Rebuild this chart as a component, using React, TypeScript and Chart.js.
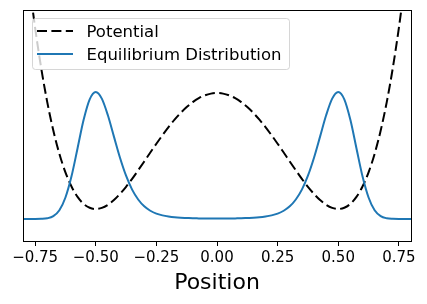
import React, { useEffect, useRef } from "react";
import { Chart, registerables } from "chart.js";

Chart.register(...registerables);

const positions = [
  -0.8, -0.775, -0.75, -0.725, -0.7, -0.675, -0.65, -0.625, -0.6, -0.575, -0.55, -0.525, -0.5,
  -0.475, -0.45, -0.425, -0.4, -0.375, -0.35, -0.325, -0.3, -0.275, -0.25, -0.225, -0.2,
  -0.175, -0.15, -0.125, -0.1, -0.075, -0.05, -0.025, 0,
  0.025, 0.05, 0.075, 0.1, 0.125, 0.15, 0.175, 0.2, 0.225, 0.25, 0.275, 0.3, 0.325, 0.35,
  0.375, 0.4, 0.425, 0.45, 0.475, 0.5, 0.525, 0.55, 0.575, 0.6, 0.625, 0.65, 0.675, 0.7,
  0.725, 0.75, 0.775, 0.8,
];

const potential = [
  2.434, 1.967, 1.5625, 1.216, 0.922, 0.677, 0.476, 0.316, 0.194, 0.104, 0.044, 0.011, 0,
  0.01, 0.036, 0.077, 0.13, 0.191, 0.26, 0.334, 0.41, 0.487, 0.563, 0.636, 0.706,
  0.77, 0.828, 0.879, 0.922, 0.956, 0.98, 0.995, 1.0,
  0.995, 0.98, 0.956, 0.922, 0.879, 0.828, 0.77, 0.706, 0.636, 0.563, 0.487, 0.41, 0.334, 0.26,
  0.191, 0.13, 0.077, 0.036, 0.01, 0, 0.011, 0.044, 0.104, 0.194, 0.316, 0.476, 0.677, 0.922,
  1.216, 1.5625, 1.967, 2.434,
];

const distribution = [
  -0.086, -0.086, -0.086, -0.085, -0.08, -0.062, -0.011, 0.099, 0.282, 0.524, 0.769, 0.946, 1.009,
  0.952, 0.808, 0.624, 0.442, 0.287, 0.167, 0.082, 0.023, -0.015, -0.04, -0.055, -0.065,
  -0.072, -0.076, -0.078, -0.08, -0.081, -0.082, -0.082, -0.082,
  -0.082, -0.082, -0.081, -0.08, -0.078, -0.076, -0.072, -0.065, -0.055, -0.04, -0.015, 0.023, 0.082, 0.167,
  0.287, 0.442, 0.624, 0.808, 0.952, 1.009, 0.946, 0.769, 0.524, 0.282, 0.099, -0.011, -0.062, -0.08,
  -0.085, -0.086, -0.086, -0.086,
];

const xTicks = [-0.75, -0.5, -0.25, 0, 0.25, 0.5, 0.75];
const seriesNames = ["Potential", "Equilibrium Distribution"];
const xLabel = "Position";

const FONT = "'DejaVu Sans', sans-serif";
const BLUE = "#1f77b4";
const DASH = [10, 4.4];

const fmt = (v: number) => (v < 0 ? "\u2212" : "") + Math.abs(v).toFixed(2);

const framePlugin = {
  id: "frame",
  afterDraw(chart: any) {
    const { ctx, chartArea } = chart;
    const l = Math.round(chartArea.left);
    const t = Math.round(chartArea.top);
    const r = Math.round(chartArea.right);
    const b = Math.round(chartArea.bottom);
    ctx.save();
    ctx.strokeStyle = "#000";
    ctx.lineWidth = 1;
    ctx.strokeRect(l + 0.5, t + 0.5, r - l, b - t);
    ctx.restore();
  },
};

const legendPlugin = {
  id: "innerLegend",
  afterDraw(chart: any) {
    const { ctx } = chart;
    const x = 32.5, y = 18.5, w = 257, h = 51, rad = 3;
    ctx.save();
    ctx.beginPath();
    ctx.moveTo(x + rad, y);
    ctx.lineTo(x + w - rad, y);
    ctx.quadraticCurveTo(x + w, y, x + w, y + rad);
    ctx.lineTo(x + w, y + h - rad);
    ctx.quadraticCurveTo(x + w, y + h, x + w - rad, y + h);
    ctx.lineTo(x + rad, y + h);
    ctx.quadraticCurveTo(x, y + h, x, y + h - rad);
    ctx.lineTo(x, y + rad);
    ctx.quadraticCurveTo(x, y, x + rad, y);
    ctx.closePath();
    ctx.fillStyle = "rgba(255,255,255,0.8)";
    ctx.fill();
    ctx.strokeStyle = "rgba(204,204,204,0.8)";
    ctx.lineWidth = 1;
    ctx.stroke();

    const rows = [
      { y: 31, base: 37, color: "#000", dash: DASH, label: seriesNames[0] },
      { y: 54, base: 60.3, color: BLUE, dash: [] as number[], label: seriesNames[1] },
    ];
    for (const row of rows) {
      ctx.beginPath();
      ctx.setLineDash(row.dash);
      ctx.strokeStyle = row.color;
      ctx.lineWidth = 2;
      ctx.moveTo(37, row.y);
      ctx.lineTo(73, row.y);
      ctx.stroke();
      ctx.setLineDash([]);
      ctx.fillStyle = "#000";
      ctx.font = `16.5px ${FONT}`;
      ctx.textBaseline = "alphabetic";
      ctx.textAlign = "left";
      ctx.fillText(row.label, 86.5, row.base);
    }
    ctx.restore();
  },
};

export default function App() {
  const ref = useRef<HTMLCanvasElement | null>(null);

  useEffect(() => {
    document.body.style.margin = "0";
    const canvas = ref.current;
    if (!canvas) return;
    const chart = new Chart(canvas, {
      type: "line",
      data: {
        datasets: [
          {
            label: seriesNames[0],
            data: positions.map((x, i) => ({ x, y: potential[i] })),
            borderColor: "#000",
            borderWidth: 2,
            borderDash: DASH,
            pointRadius: 0,
            fill: false,
            cubicInterpolationMode: "monotone",
            order: 1,
          },
          {
            label: seriesNames[1],
            data: positions.map((x, i) => ({ x, y: distribution[i] })),
            borderColor: BLUE,
            borderWidth: 2,
            pointRadius: 0,
            fill: false,
            cubicInterpolationMode: "monotone",
            order: 0,
          },
        ],
      },
      options: {
        animation: false,
        responsive: false,
        devicePixelRatio: 1,
        layout: { padding: { left: 23, right: 16, top: 10, bottom: 0 } },
        plugins: { legend: { display: false }, tooltip: { enabled: false } },
        scales: {
          x: {
            type: "linear",
            min: -0.8,
            max: 0.8,
            afterBuildTicks: (s: any) => {
              s.ticks = xTicks.map((v) => ({ value: v }));
            },
            afterFit: (s: any) => {
              s.height = 63;
            },
            ticks: {
              autoSkip: false,
              maxRotation: 0,
              color: "#000",
              padding: 3,
              font: { family: FONT, size: 15 },
              callback: (v: any) => fmt(Number(v)),
            },
            grid: {
              drawOnChartArea: false,
              drawTicks: true,
              tickLength: 5,
              tickColor: "#000",
              tickWidth: 1,
            },
            border: { display: false },
            title: {
              display: true,
              text: xLabel,
              color: "#000",
              font: { family: FONT, size: 22 },
              padding: { top: 0, bottom: 8 },
            },
          },
          y: {
            display: false,
            min: -0.276,
            max: 1.716,
          },
        },
      },
      plugins: [framePlugin, legendPlugin],
    } as any);
    return () => chart.destroy();
  }, []);

  return (
    <div style={{ width: 427, height: 304 }}>
      <canvas ref={ref} width={427} height={304} style={{ display: "block", width: 427, height: 304 }} />
    </div>
  );
}
